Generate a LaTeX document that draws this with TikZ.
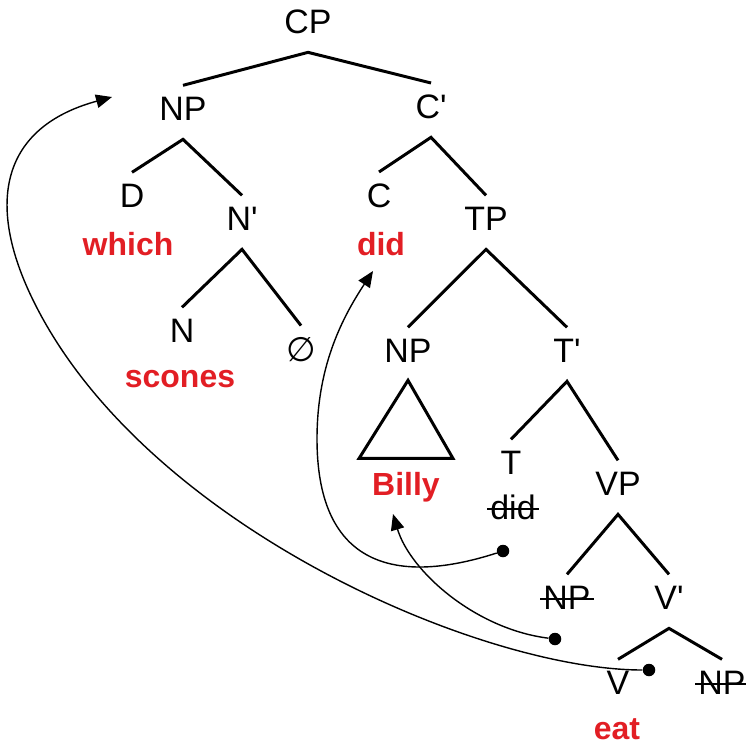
\documentclass[tikz,border=0pt]{standalone}
\usepackage{fontspec}
\setmainfont{Liberation Sans}[Ligatures=TeXOff]
\newfontfamily\emptyfont{DejaVu Sans}
\usetikzlibrary{arrows.meta}
\definecolor{word_red}{RGB}{226,30,36}

\begin{document}
\begin{tikzpicture}[
        x=0.02cm, y=-0.02cm,
        cat/.style={font=\fontsize{19.3}{22}\selectfont, inner sep=0pt, text depth=0pt, anchor=base},
        word/.style={font=\fontsize{18.2}{22}\selectfont\bfseries, text=word_red, inner sep=0pt, anchor=base},
        branch/.style={line width=1.7pt},
        strike/.style={line width=1.1pt},
        trace/.style={circle, fill=black, inner sep=0pt, minimum size=0.25cm},
        move/.style={line width=0.8pt, -{Triangle[length=0.32cm, width=0.27cm]}},
    ]
    \useasboundingbox (0,0) rectangle (746,744);

    % nodes
    \node[cat] (cp) at (308,33) {CP};
    \node[cat] (np_wh) at (183,120) {NP};
    \node[cat] (cbar) at (431,118) {C'};
    \node[cat] (d) at (132,207) {D};
    \node[word] (which) at (128,255) {which};
    \node[cat] (nbar) at (242,230) {N'};
    \node[cat] (c) at (379,207) {C};
    \node[word] (did) at (381,255) {did};
    \node[cat] (tp) at (486,230) {TP};
    \node[cat] (n) at (182,342) {N};
    \node[word] (scones) at (180,387) {scones};
    \node[cat] (empty) at (301,361) {\emptyfont ∅};
    \node[cat] (np_subj) at (408,362) {NP};
    \node[cat] (tbar) at (567,362) {T'};
    \node[word] (billy) at (406,495) {Billy};
    \node[cat] (t) at (511,474) {T};
    \node[cat] (t_did) at (513,519) {did};
    \node[cat] (vp) at (618,495) {VP};
    \node[cat] (np_trace) at (567,609) {NP};
    \node[cat] (vbar) at (669,609) {V'};
    \node[cat] (v) at (618,694) {V};
    \node[cat] (np_obj) at (722,694) {NP};
    \node[word] (eat) at (617,739) {eat};

    % branches
    \foreach \p/\l/\r in {cp/np_wh/cbar, np_wh/d/nbar, cbar/c/tp, nbar/n/empty,
                          tp/np_subj/tbar, tbar/t/vp, vp/np_trace/vbar, vbar/v/np_obj} {
        \draw[branch] ([yshift=0.22cm]\l.north) -- ([yshift=-0.38cm]\p.south) -- ([yshift=0.22cm]\r.north);
    }
    \draw[branch] ([yshift=-0.36cm]np_subj.south) -- ([xshift=-0.94cm, yshift=0.26cm]billy.north)
        -- ([xshift=0.94cm, yshift=0.26cm]billy.north) -- cycle; % roof over Billy

    % struck copies
    \foreach \s in {t_did, np_trace, np_obj} {
        \draw[strike] ([xshift=-0.06cm, yshift=0.2cm]\s.base west) -- ([xshift=0.06cm, yshift=0.2cm]\s.base east);
    }

    % traces
    \node[trace] (trace_t) at (503,551) {};
    \node[trace] (trace_subj) at (555,639) {};
    \node[trace] (trace_v) at (649,670) {};
    \coordinate (land_wh) at (112,97);
    \coordinate (land_c) at (373,271);
    \coordinate (land_subj) at (393,514);
    \coordinate (bend_wh) at (33,300);
    \coordinate (bend_c) at (317,439);

    % movement
    \draw[move] (trace_v) .. controls (480,670) and (143,525) .. (bend_wh)
        .. controls (-15,202) and (2,127) .. (land_wh);
    \draw[move] (trace_t) .. controls (388,588) and (317,560) .. (bend_c)
        .. controls (317,369) and (340,321) .. (land_c);
    \draw[move] (trace_subj) .. controls (475,629) and (410,571) .. (land_subj);
\end{tikzpicture}
\end{document}
